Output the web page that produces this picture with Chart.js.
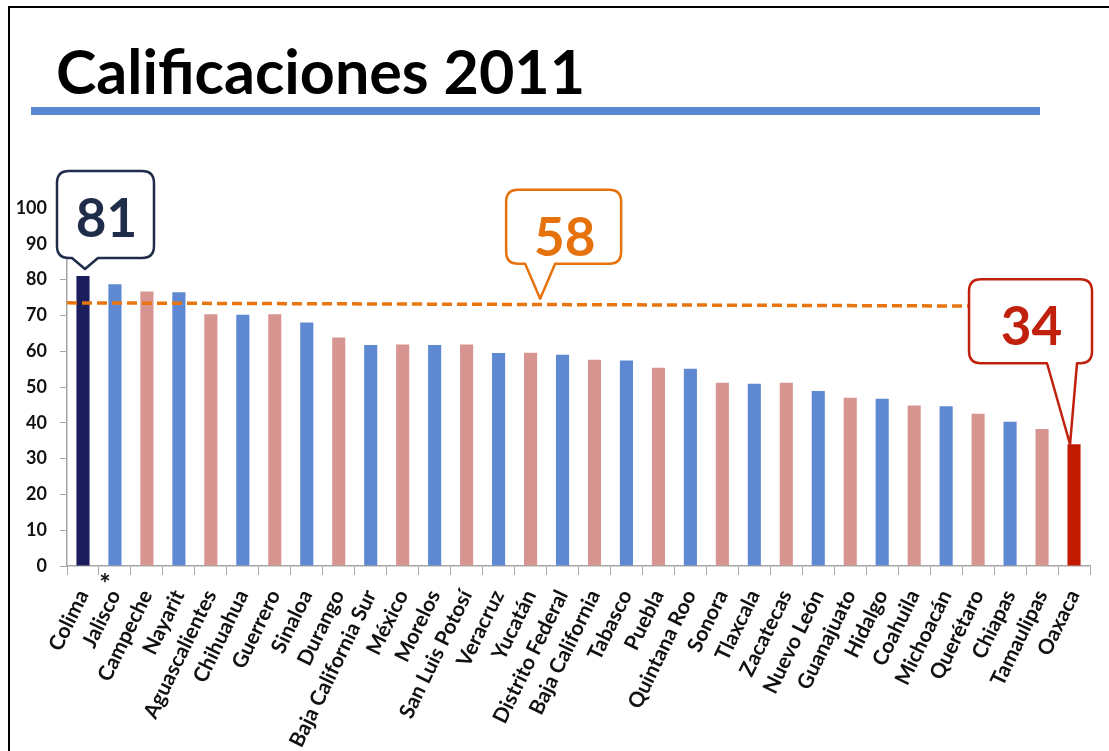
<!DOCTYPE html>
<html>
<head>
<meta charset="utf-8">
<script src="https://cdn.jsdelivr.net/npm/chart.js@4"></script>
<style>
  body { margin: 0; background: #fff; }
  #wrap { position: relative; width: 1109px; height: 751px; overflow: hidden; background: #fff; font-family: Lato, sans-serif; }
  #frame { position: absolute; left: 8px; top: 6px; right: -10px; bottom: -10px; border-left: 2px solid #000; border-top: 2px solid #000; }
  #title { position: absolute; left: 56px; top: 40px; font-size: 61px; line-height: 62px; font-weight: 700; color: #000; white-space: nowrap; }
  #rule { position: absolute; left: 31px; top: 107px; width: 1009px; height: 8px; background: #5b87d3; }
  canvas { position: absolute; left: 0; top: 0; }
</style>
</head>
<body>
<div id="wrap">
  <div id="frame"></div>
  <div id="title">Calificaciones 2011</div>
  <div id="rule"></div>
  <canvas id="chart" width="1109" height="751"></canvas>
</div>
<script>
// data
const states = ['Colima', 'Jalisco', 'Campeche', 'Nayarit', 'Aguascalientes', 'Chihuahua', 'Guerrero', 'Sinaloa',
  'Durango', 'Baja California Sur', 'México', 'Morelos', 'San Luis Potosí', 'Veracruz', 'Yucatán', 'Distrito Federal',
  'Baja California', 'Tabasco', 'Puebla', 'Quintana Roo', 'Sonora', 'Tlaxcala', 'Zacatecas', 'Nuevo León',
  'Guanajuato', 'Hidalgo', 'Coahuila', 'Michoacán', 'Querétaro', 'Chiapas', 'Tamaulipas', 'Oaxaca'];
const scores = [81, 78.7, 76.7, 76.5, 70.3, 70.2, 70.3, 68.0,
  63.8, 61.7, 61.9, 61.7, 61.9, 59.5, 59.6, 59.0,
  57.6, 57.4, 55.4, 55.1, 51.2, 50.9, 51.2, 48.9,
  47.0, 46.7, 44.8, 44.6, 42.5, 40.3, 38.3, 34];
const yTicks = [0, 10, 20, 30, 40, 50, 60, 70, 80, 90, 100];

// dashed reference line (start / end)
const refLineX = [-0.5, 31.5];
const refLineY = [73.5, 72.5];

// callout texts
const calloutText = ['81', '58', '34'];

const NAVY = '#1b1d5c';
const BLUE = '#5f88d3';
const PINK = '#d79591';
const RED = '#c21a00';

const barColors = scores.map((v, i) => {
  if (i === 0) return NAVY;
  if (i === scores.length - 1) return RED;
  return i % 2 === 1 ? BLUE : PINK;
});

function bubble(ctx, l, t, w, h, r, bl, br, tx, ty) {
  const R = l + w, B = t + h;
  ctx.beginPath();
  ctx.moveTo(l + r, t);
  ctx.lineTo(R - r, t);
  ctx.quadraticCurveTo(R, t, R, t + r);
  ctx.lineTo(R, B - r);
  ctx.quadraticCurveTo(R, B, R - r, B);
  ctx.lineTo(br, B);
  ctx.lineTo(tx, ty);
  ctx.lineTo(bl, B);
  ctx.lineTo(l + r, B);
  ctx.quadraticCurveTo(l, B, l, B - r);
  ctx.lineTo(l, t + r);
  ctx.quadraticCurveTo(l, t, l + r, t);
  ctx.closePath();
}

const calloutPlugin = {
  id: 'callouts',
  afterDatasetsDraw(chart) {
    const ctx = chart.ctx;
    const bars = chart.getDatasetMeta(1).data;
    const y = chart.scales.y;
    const x2 = chart.scales.x2;
    const last = bars.length - 1;
    // tip point, box offset from tip, size, pointer base, colour
    const specs = [
      { tx: bars[0].x + 2, ty: bars[0].y - 7, dx: -28, dy: -98, w: 97, h: 87, bl: -13, br: 13, color: '#1f2c4a' },
      { tx: x2.getPixelForValue(14.3), ty: y.getPixelForValue(73) - 6, dx: -34, dy: -109, w: 115, h: 74, bl: -15, br: 15, color: '#e5720d' },
      { tx: bars[last].x - 4, ty: bars[last].y, dx: -101, dy: -165, w: 123, h: 84, bl: -23, br: 7, color: '#c0200c' },
    ];
    ctx.save();
    specs.forEach((s, i) => {
      const l = s.tx + s.dx, t = s.ty + s.dy;
      bubble(ctx, l, t, s.w, s.h, 12, s.tx + s.bl, s.tx + s.br, s.tx, s.ty);
      ctx.fillStyle = '#fff';
      ctx.fill();
      ctx.lineWidth = 2.5;
      ctx.lineJoin = 'round';
      ctx.strokeStyle = s.color;
      ctx.stroke();
      ctx.fillStyle = s.color;
      ctx.font = 'bold 53px Lato';
      ctx.textAlign = 'center';
      ctx.textBaseline = 'alphabetic';
      ctx.fillText(calloutText[i], l + s.w / 2 + 1, t + 66);
    });
    // asterisk next to Jalisco
    const xs = chart.scales.x;
    ctx.fillStyle = '#111';
    ctx.font = 'bold 27px Lato';
    ctx.textAlign = 'center';
    ctx.fillText('*', (bars[0].x + bars[1].x) / 2 + 6, xs.top + 27);
    ctx.restore();
  }
};

new Chart(document.getElementById('chart'), {
  type: 'bar',
  data: {
    labels: states,
    datasets: [
      {
        type: 'line',
        xAxisID: 'x2',
        data: refLineX.map((x, i) => ({ x: x, y: refLineY[i] })),
        borderColor: '#e8750f',
        borderWidth: 3.5,
        borderDash: [10, 5],
        pointRadius: 0,
        fill: false,
        order: 0,
      },
      {
        type: 'bar',
        xAxisID: 'x',
        data: scores,
        backgroundColor: barColors,
        grouped: false,
        categoryPercentage: 1,
        barPercentage: 0.41,
        order: 1,
      },
    ],
  },
  options: {
    responsive: false,
    animation: false,
    devicePixelRatio: 1,
    layout: { padding: { top: 208, right: 19, bottom: 0, left: 0 } },
    plugins: { legend: { display: false }, tooltip: { enabled: false } },
    scales: {
      x: {
        type: 'category',
        offset: true,
        afterFit: (s) => { s.height = 185; s.paddingLeft = 0; s.paddingRight = 0; },
        grid: { drawOnChartArea: false, drawTicks: true, tickLength: 9, color: '#a6a6a6', offset: true },
        border: { display: true, color: '#a6a6a6', width: 1.5 },
        ticks: {
          autoSkip: false,
          minRotation: 64,
          maxRotation: 64,
          padding: 11,
          color: '#111',
          font: { family: 'Lato', size: 21, weight: 'bold' },
        },
      },
      x2: { type: 'linear', offset: false, min: refLineX[0], max: refLineX[1], display: false },
      y: {
        min: 0,
        max: 100,
        afterFit: (s) => { s.width = 67; },
        afterBuildTicks: (s) => { s.ticks = yTicks.map(v => ({ value: v })); },
        grid: { drawOnChartArea: false, drawTicks: true, tickLength: 7, color: '#a6a6a6' },
        border: { display: true, color: '#a6a6a6', width: 1.5 },
        ticks: {
          padding: 13,
          color: '#111',
          font: { family: 'Lato', size: 18, weight: 'bold' },
        },
      },
    },
  },
  plugins: [calloutPlugin],
});
</script>
</body>
</html>
